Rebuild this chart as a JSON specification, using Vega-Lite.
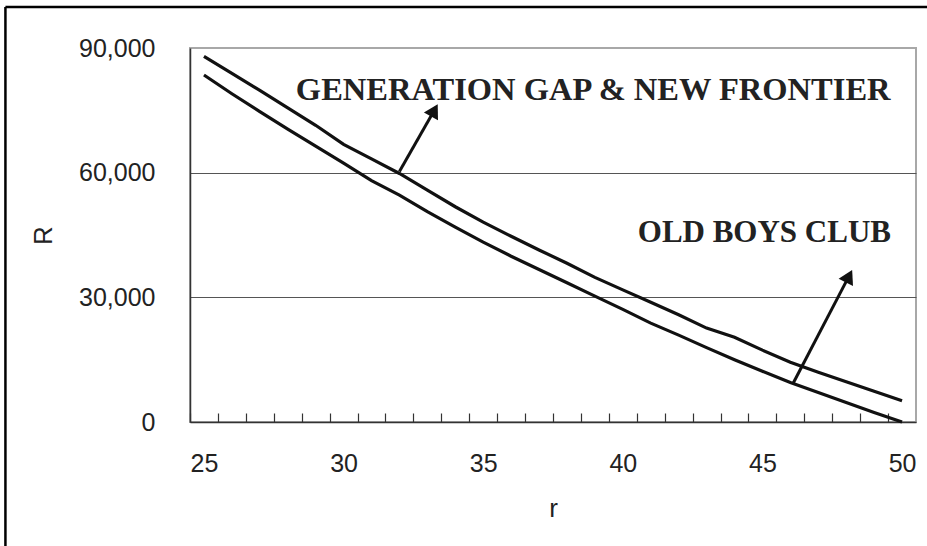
{
  "$schema": "https://vega.github.io/schema/vega-lite/v6.json",
  "width": 726,
  "height": 374,
  "autosize": {"type": "none"},
  "padding": {"left": 190, "top": 48, "right": 11, "bottom": 124},
  "background": "white",
  "config": {
    "view": {"stroke": "#a8a8a8", "strokeWidth": 2},
    "font": "Liberation Sans",
    "axis": {"labelOverlap": false, "labelFlush": false}
  },
  "resolve": {"axis": {"x": "independent"}},
  "datasets": {
    "curves": [
      {"r": 25, "R": 88000, "series": "upper"},
      {"r": 26, "R": 83900, "series": "upper"},
      {"r": 27, "R": 79800, "series": "upper"},
      {"r": 28, "R": 75600, "series": "upper"},
      {"r": 29, "R": 71400, "series": "upper"},
      {"r": 30, "R": 66800, "series": "upper"},
      {"r": 31, "R": 63300, "series": "upper"},
      {"r": 32, "R": 59800, "series": "upper"},
      {"r": 33, "R": 55800, "series": "upper"},
      {"r": 34, "R": 51800, "series": "upper"},
      {"r": 35, "R": 48100, "series": "upper"},
      {"r": 36, "R": 44700, "series": "upper"},
      {"r": 37, "R": 41400, "series": "upper"},
      {"r": 38, "R": 38200, "series": "upper"},
      {"r": 39, "R": 34800, "series": "upper"},
      {"r": 40, "R": 31800, "series": "upper"},
      {"r": 41, "R": 28800, "series": "upper"},
      {"r": 42, "R": 25800, "series": "upper"},
      {"r": 43, "R": 22600, "series": "upper"},
      {"r": 44, "R": 20400, "series": "upper"},
      {"r": 45, "R": 17300, "series": "upper"},
      {"r": 46, "R": 14400, "series": "upper"},
      {"r": 47, "R": 12000, "series": "upper"},
      {"r": 48, "R": 9700, "series": "upper"},
      {"r": 49, "R": 7400, "series": "upper"},
      {"r": 50, "R": 5100, "series": "upper"},
      {"r": 25, "R": 83500, "series": "lower"},
      {"r": 26, "R": 79000, "series": "lower"},
      {"r": 27, "R": 74700, "series": "lower"},
      {"r": 28, "R": 70500, "series": "lower"},
      {"r": 29, "R": 66400, "series": "lower"},
      {"r": 30, "R": 62300, "series": "lower"},
      {"r": 31, "R": 58100, "series": "lower"},
      {"r": 32, "R": 54600, "series": "lower"},
      {"r": 33, "R": 50600, "series": "lower"},
      {"r": 34, "R": 46900, "series": "lower"},
      {"r": 35, "R": 43300, "series": "lower"},
      {"r": 36, "R": 39900, "series": "lower"},
      {"r": 37, "R": 36700, "series": "lower"},
      {"r": 38, "R": 33500, "series": "lower"},
      {"r": 39, "R": 30300, "series": "lower"},
      {"r": 40, "R": 27100, "series": "lower"},
      {"r": 41, "R": 23800, "series": "lower"},
      {"r": 42, "R": 20900, "series": "lower"},
      {"r": 43, "R": 17900, "series": "lower"},
      {"r": 44, "R": 15000, "series": "lower"},
      {"r": 45, "R": 12200, "series": "lower"},
      {"r": 46, "R": 9500, "series": "lower"},
      {"r": 47, "R": 7100, "series": "lower"},
      {"r": 48, "R": 4700, "series": "lower"},
      {"r": 49, "R": 2300, "series": "lower"},
      {"r": 50, "R": 0, "series": "lower"}
    ],
    "labels": [
      {"r": 38.94, "R": 77500, "text": "GENERATION GAP & NEW FRONTIER", "which": "gen"},
      {"r": 45.07, "R": 43400, "text": "OLD BOYS CLUB", "which": "old"}
    ],
    "arrows": [
      {"r": 32.0, "R": 60300, "r2": 33.25, "R2": 75000, "angle": 29},
      {"r": 46.11, "R": 9450, "r2": 48.1, "R2": 35100, "angle": 27}
    ]
  },
  "layer": [
    {
      "data": {"name": "curves"},
      "mark": {"type": "line", "stroke": "#111", "strokeWidth": 3.2},
      "encoding": {
        "x": {
          "field": "r", "type": "quantitative",
          "scale": {"domain": [24.5, 50.5], "nice": false, "zero": false},
          "axis": {
            "orient": "bottom",
            "values": [25,26,27,28,29,30,31,32,33,34,35,36,37,38,39,40,41,42,43,44,45,46,47,48,49,50],
            "labels": false,
            "tickOffset": -13.96,
            "tickSize": -9,
            "tickColor": "#333",
            "tickWidth": 1.2,
            "domainColor": "#333",
            "domainWidth": 1.5,
            "grid": false,
            "title": null
          }
        },
        "y": {
          "field": "R", "type": "quantitative",
          "scale": {"domain": [0, 90000], "nice": false, "zero": true},
          "axis": {
            "values": [0, 30000, 60000, 90000],
            "labelExpr": "format(datum.value, ',')",
            "labelOverlap": false,
            "ticks": false,
            "grid": true,
            "gridColor": {"condition": {"test": "datum.value === 90000 || datum.value === 0", "value": "#a8a8a8"}, "value": "#555"},
            "gridWidth": 1.2,
            "domainColor": "#333",
            "domainWidth": 1.5,
            "labelFontSize": 25,
            "labelColor": "#222",
            "labelPadding": 35,
            "labelFont": "Liberation Sans",
            "title": "R",
            "titleFontSize": 26,
            "titleFontWeight": "normal",
            "titleColor": "#222",
            "titleFont": "Liberation Sans",
            "titlePadding": 22
          }
        },
        "detail": {"field": "series"}
      }
    },
    {
      "data": {"name": "arrows"},
      "mark": {"type": "rule", "stroke": "#111", "strokeWidth": 3},
      "encoding": {
        "x": {
          "field": "r", "type": "quantitative",
          "axis": {
            "orient": "bottom",
            "values": [25, 30, 35, 40, 45, 50],
            "format": "d",
            "ticks": false,
            "domain": false,
            "grid": false,
            "labelFontSize": 25,
            "labelColor": "#222",
            "labelPadding": 29,
            "labelFont": "Liberation Sans",
            "title": "r",
            "titleFontSize": 26,
            "titleFontWeight": "normal",
            "titleColor": "#222",
            "titleFont": "Liberation Sans",
            "titlePadding": 19
          }
        },
        "y": {"field": "R", "type": "quantitative"},
        "x2": {"field": "r2"},
        "y2": {"field": "R2"}
      }
    },
    {
      "data": {"values": [{}]},
      "mark": {"type": "rule", "stroke": "#000", "strokeWidth": 2.5, "clip": false},
      "encoding": {
        "x": {"datum": 17.89, "type": "quantitative", "axis": null},
        "x2": {"datum": 51.2},
        "y": {"datum": 99866, "type": "quantitative"}
      }
    },
    {
      "data": {"values": [{}]},
      "mark": {"type": "rule", "stroke": "#000", "strokeWidth": 2.5, "clip": false},
      "encoding": {
        "x": {"datum": 17.89, "type": "quantitative", "axis": null},
        "y": {"datum": 99866, "type": "quantitative"},
        "y2": {"datum": -31000}
      }
    },
    {
      "data": {"name": "arrows"},
      "mark": {"type": "point", "shape": "triangle-up", "filled": true, "fill": "#111", "size": 260, "opacity": 1},
      "encoding": {
        "x": {"field": "r2", "type": "quantitative", "axis": null},
        "y": {"field": "R2", "type": "quantitative"},
        "angle": {"field": "angle", "type": "quantitative", "scale": null}
      }
    },
    {
      "data": {"name": "labels"},
      "transform": [{"filter": "datum.which === 'gen'"}],
      "mark": {"type": "text", "font": "Liberation Serif", "fontWeight": "bold", "fontSize": 32.5, "fill": "#222", "align": "center", "baseline": "alphabetic"},
      "encoding": {
        "x": {"field": "r", "type": "quantitative", "axis": null},
        "y": {"field": "R", "type": "quantitative"},
        "text": {"field": "text"}
      }
    },
    {
      "data": {"name": "labels"},
      "transform": [{"filter": "datum.which === 'old'"}],
      "mark": {"type": "text", "font": "Liberation Serif", "fontWeight": "bold", "fontSize": 31, "fill": "#222", "align": "center", "baseline": "alphabetic"},
      "encoding": {
        "x": {"field": "r", "type": "quantitative", "axis": null},
        "y": {"field": "R", "type": "quantitative"},
        "text": {"field": "text"}
      }
    }
  ]
}
